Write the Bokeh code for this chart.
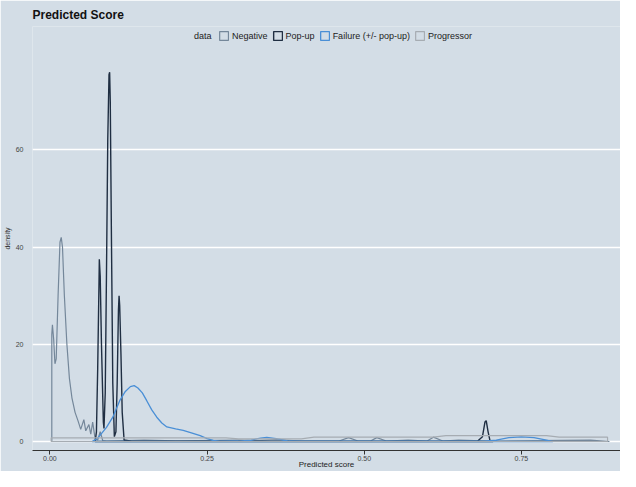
from bokeh.plotting import figure
from bokeh.models import (Range1d, FixedTicker, NumeralTickFormatter, Legend, LegendItem)
from bokeh.embed import file_html
from bokeh.resources import INLINE

# ---- data ----
series_names = ["Negative", "Pop-up", "Failure (+/- pop-up)", "Progressor"]
legend_title = "data"

neg_x = [0.003, 0.003, 0.004, 0.006, 0.008, 0.010, 0.013, 0.016, 0.018, 0.020, 0.023, 0.027,
         0.031, 0.035, 0.040, 0.0446, 0.049, 0.054, 0.057, 0.062, 0.065, 0.068, 0.072, 0.076,
         0.080, 0.084, 0.09, 0.15, 0.2, 0.3, 0.33, 0.36, 0.4, 0.46, 0.475, 0.49, 0.51, 0.52,
         0.535, 0.57, 0.60, 0.61, 0.625, 0.65, 0.7, 0.86, 0.88, 0.89]
neg_y = [0, 22, 24, 21, 16, 17, 30, 41, 42, 40, 30, 20,
         13, 9, 6, 4.3, 2.5, 4.5, 2.2, 3.5, 1.5, 4.0, 0.5, 0.3,
         2.0, 0.2, 0.1, 0.3, 0.15, 0.3, 0.2, 0.4, 0.1, 0.1, 0.8, 0.1, 0.1, 0.8,
         0.1, 0.3, 0.1, 0.9, 0.1, 0.3, 0.1, 0.3, 0.1, 0]

pop_x = [0.072, 0.074, 0.076, 0.078, 0.0786, 0.080, 0.082, 0.085, 0.086, 0.088, 0.090,
         0.092, 0.094, 0.095, 0.096, 0.098, 0.100, 0.1025, 0.105, 0.107, 0.109, 0.110,
         0.111, 0.113, 0.115, 0.118, 0.13, 0.68, 0.688, 0.692, 0.694, 0.697, 0.700, 0.705]
pop_y = [0, 2, 15, 32, 37.5, 34, 20, 4, 2.7, 10, 35,
         62, 75.5, 76, 70, 40, 12, 1, 2, 12, 27, 30,
         28, 18, 6, 0.3, 0.05, 0.05, 1, 4, 4.3, 2, 0.2, 0]

fail_x = [0.067, 0.075, 0.08, 0.09, 0.10, 0.111, 0.12, 0.128, 0.134, 0.14, 0.147, 0.154,
          0.162, 0.17, 0.178, 0.186, 0.2, 0.212, 0.225, 0.239, 0.25, 0.26, 0.27, 0.30,
          0.32, 0.335, 0.345, 0.36, 0.38, 0.40, 0.5, 0.69, 0.71, 0.73, 0.75, 0.77, 0.79, 0.80]
fail_y = [0, 0.6, 1.3, 2.9, 5, 8.4, 10.3, 11.3, 11.5, 11.0, 10, 8.4,
          6.5, 5, 3.8, 3.0, 2.6, 2.3, 1.8, 1.2, 0.6, 0.25, 0.05, 0.1,
          0.3, 0.7, 0.85, 0.6, 0.1, 0.05, 0.05, 0.05, 0.3, 0.8, 0.95, 0.8, 0.3, 0]

prog_x = [0.002, 0.002, 0.28, 0.30, 0.40, 0.42, 0.61, 0.63, 0.79, 0.81, 0.887, 0.887]
prog_y = [0, 0.75, 0.75, 0.55, 0.55, 0.9, 0.9, 1.2, 1.2, 0.9, 0.9, 0]

x_ticks = [0, 0.25, 0.5, 0.75]
y_ticks = [0, 20, 40, 60]

colors = ["#74879a", "#1f2e42", "#4a8fd6", "#a6acb2"]
BG = "#d3dde6"
FONT = "Liberation Sans"

p = figure(width=620, height=471, output_backend="svg", toolbar_location=None,
           x_range=Range1d(-0.0277, 0.9076), y_range=Range1d(-1.85, 85.4),
           title="Predicted Score")
p.background_fill_color = BG
p.border_fill_color = BG
p.outline_line_color = None
p.min_border_left = 10
p.min_border_right = 0
p.min_border_bottom = 0
p.min_border_top = 10

p.title.text_font = FONT
p.title.text_font_size = "12px"
p.title.text_font_style = "bold"
p.title.text_color = "#111111"

renderers = []
for xs, ys, c, lw in [(neg_x, neg_y, colors[0], 1.2), (pop_x, pop_y, colors[1], 1.4),
                      (fail_x, fail_y, colors[2], 1.3), (prog_x, prog_y, colors[3], 1.2)]:
    r = p.patch(xs, ys, fill_alpha=0, line_color=c, line_width=lw)
    renderers.append(r)

# invisible renderer used only to show the legend title "data" inline
title_r = p.patch([], [], fill_alpha=0, line_alpha=0)

# grid
p.xgrid.grid_line_color = None
p.ygrid.grid_line_color = "white"
p.ygrid.grid_line_width = 1.3
p.ygrid.ticker = FixedTicker(ticks=y_ticks)

# x axis
xa = p.xaxis[0]
xa.ticker = FixedTicker(ticks=x_ticks)
xa.formatter = NumeralTickFormatter(format="0.00")
xa.axis_line_color = "#333333"
xa.major_tick_line_color = "#333333"
xa.major_tick_out = 4
xa.major_tick_in = 0
xa.minor_tick_line_color = None
xa.major_label_text_font = FONT
xa.major_label_text_font_size = "7px"
xa.major_label_text_color = "#444444"
xa.major_label_standoff = 1
xa.axis_label = "Predicted score"
xa.axis_label_text_font = FONT
xa.axis_label_text_font_size = "8px"
xa.axis_label_text_font_style = "normal"
xa.axis_label_text_color = "#222222"
xa.axis_label_standoff = -4

# y axis
ya = p.yaxis[0]
ya.ticker = FixedTicker(ticks=y_ticks)
ya.axis_line_color = None
ya.major_tick_line_color = None
ya.minor_tick_line_color = None
ya.major_label_text_font = FONT
ya.major_label_text_font_size = "7px"
ya.major_label_text_color = "#444444"
ya.major_label_standoff = 3
ya.axis_label = "density"
ya.axis_label_text_font = FONT
ya.axis_label_text_font_size = "7px"
ya.axis_label_text_font_style = "normal"
ya.axis_label_text_color = "#333333"
ya.axis_label_standoff = 2

items = [LegendItem(label=legend_title, renderers=[title_r])]
items += [LegendItem(label=n, renderers=[r]) for n, r in zip(series_names, renderers)]
legend = Legend(items=items, orientation="horizontal", location="top_center")
legend.label_text_font = FONT
legend.label_text_font_size = "9px"
legend.label_text_color = "#222222"
legend.glyph_width = 11
legend.glyph_height = 11
legend.label_standoff = 3
legend.spacing = 4
legend.padding = 2
legend.margin = 4
legend.background_fill_alpha = 0
legend.border_line_color = None
p.add_layout(legend, "center")

open("out.html", "w").write(file_html(p, INLINE))
